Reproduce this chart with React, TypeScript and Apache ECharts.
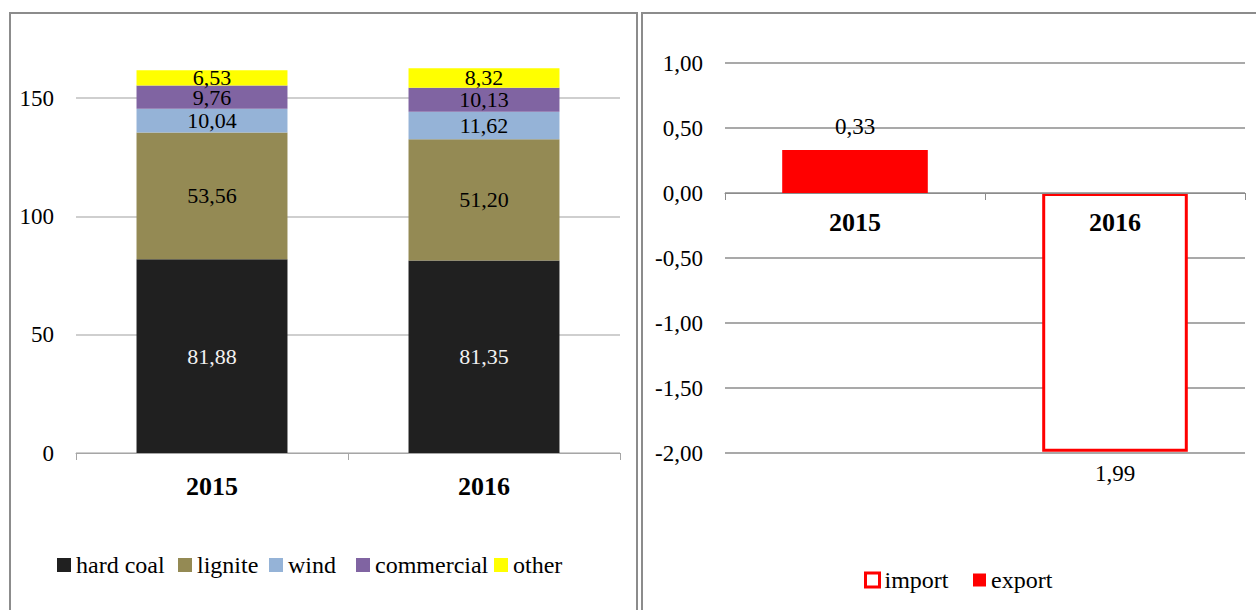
import React, { useEffect, useRef } from "react";
import * as echarts from "echarts";

const categories = ["2015", "2016"];
const hardCoal = [81.88, 81.35];
const lignite = [53.56, 51.2];
const wind = [10.04, 11.62];
const commercial = [9.76, 10.13];
const other = [6.53, 8.32];
const importVals: (number | string)[] = ["-", -1.99];
const exportVals: (number | string)[] = [0.33, "-"];

const FONT = "'Liberation Serif', 'Times New Roman', serif";
const fmt = (v: number) => Math.abs(v).toFixed(2).replace(".", ",");

export default function App() {
  const ref = useRef<HTMLDivElement>(null);
  useEffect(() => {
    if (!ref.current) return;
    const chart = echarts.init(ref.current, undefined, { renderer: "svg" });

    const leftColors = ["#202020", "#948a54", "#95b3d7", "#8064a2", "#ffff00"];
    const leftNames = ["hard coal", "lignite", "wind", "commercial", "other"];
    const leftData = [hardCoal, lignite, wind, commercial, other];
    const leftLegendX = [57, 178, 269, 356, 494];

    const leftSeries = leftNames.map((name, i) => ({
      name,
      type: "bar",
      stack: "left",
      xAxisIndex: 0,
      yAxisIndex: 0,
      barWidth: "55.5%",
      clip: false,
      data: leftData[i],
      itemStyle: { color: leftColors[i] },
      label: {
        show: true,
        position: "inside",
        formatter: (p: any) => fmt(p.value),
        color: i === 0 ? "#f2f2f2" : "#000",
        fontFamily: FONT,
        fontSize: 22,
        lineHeight: 15,
      },
    }));

    const legendText = { fontFamily: FONT, fontSize: 24, color: "#000", lineHeight: 24 };

    const legends: any[] = leftNames.map((name, i) => ({
      data: [name],
      left: leftLegendX[i],
      top: 553,
      padding: 0,
      itemWidth: 14,
      itemHeight: 14,
      itemGap: 0,
      icon: "rect",
      textStyle: legendText,
      selectedMode: false,
    }));
    legends.push({
      data: ["import"],
      left: 864,
      top: 568,
      padding: 0,
      itemWidth: 14,
      itemHeight: 14,
      icon: "rect",
      itemStyle: { color: "#ffffff", borderColor: "#ff0000", borderWidth: 3 },
      textStyle: legendText,
      selectedMode: false,
    });
    legends.push({
      data: ["export"],
      left: 973,
      top: 568,
      padding: 0,
      itemWidth: 13,
      itemHeight: 13,
      icon: "rect",
      itemStyle: { color: "#ff0000" },
      textStyle: legendText,
      selectedMode: false,
    });

    const option: any = {
      animation: false,
      backgroundColor: "#ffffff",
      graphic: [
        {
          type: "rect",
          shape: { x: 10, y: 13, width: 627, height: 620 },
          style: { fill: "none", stroke: "#8c8c8c", lineWidth: 2 },
          z: 10,
        },
        {
          type: "rect",
          shape: { x: 642, y: 13, width: 700, height: 620 },
          style: { fill: "none", stroke: "#8c8c8c", lineWidth: 2 },
          z: 10,
        },
      ],
      legend: legends,
      grid: [
        { left: 76, right: 1256 - 620, top: 98, bottom: 610 - 453 },
        { left: 725, right: 1256 - 1245, top: 63, bottom: 610 - 453 },
      ],
      xAxis: [
        {
          type: "category",
          gridIndex: 0,
          data: categories,
          axisLine: { lineStyle: { color: "#a6a6a6", width: 1 } },
          axisTick: { show: true, length: 7, lineStyle: { color: "#a6a6a6" } },
          axisLabel: { fontFamily: FONT, fontSize: 26, fontWeight: "bold", color: "#000", margin: 20 },
        },
        {
          type: "category",
          gridIndex: 1,
          data: categories,
          position: "bottom",
          offset: -260,
          z: 3,
          axisLine: { onZero: false, lineStyle: { color: "#8c8c8c", width: 1 } },
          axisTick: { show: true, length: 7, lineStyle: { color: "#8c8c8c" } },
          axisLabel: { fontFamily: FONT, fontSize: 26, fontWeight: "bold", color: "#000", margin: 16 },
        },
      ],
      yAxis: [
        {
          type: "value",
          gridIndex: 0,
          min: 0,
          max: 150,
          interval: 50,
          axisLine: { show: false },
          axisTick: { show: false },
          splitLine: { lineStyle: { color: "#bfbfbf", width: 1.5 } },
          axisLabel: { fontFamily: FONT, fontSize: 23, color: "#000", margin: 22 },
        },
        {
          type: "value",
          gridIndex: 1,
          min: -2,
          max: 1,
          interval: 0.5,
          axisLine: { show: false },
          axisTick: { show: false },
          splitLine: { lineStyle: { color: "#8c8c8c", width: 1.5 } },
          axisLabel: {
            fontFamily: FONT,
            fontSize: 23,
            color: "#000",
            margin: 22,
            formatter: (v: number) => v.toFixed(2).replace(".", ","),
          },
        },
      ],
      series: [
        ...leftSeries,
        {
          name: "import",
          type: "bar",
          stack: "right",
          xAxisIndex: 1,
          yAxisIndex: 1,
          barWidth: "56%",
          data: importVals,
          itemStyle: { color: "#ffffff", borderColor: "#ff0000", borderWidth: 3 },
          label: {
            show: true,
            position: "bottom",
            distance: 10,
            formatter: (p: any) => fmt(p.value),
            fontFamily: FONT,
            fontSize: 23,
            color: "#000",
          },
        },
        {
          name: "export",
          type: "bar",
          stack: "right",
          xAxisIndex: 1,
          yAxisIndex: 1,
          barWidth: "56%",
          data: exportVals,
          itemStyle: { color: "#ff0000" },
          label: {
            show: true,
            position: "top",
            distance: 12,
            formatter: (p: any) => fmt(p.value),
            fontFamily: FONT,
            fontSize: 23,
            color: "#000",
          },
        },
      ],
    };
    chart.setOption(option);
    return () => chart.dispose();
  }, []);

  return (
    <div
      ref={ref}
      style={{ position: "fixed", left: 0, top: 0, width: 1256, height: 610, background: "#fff" }}
    />
  );
}
